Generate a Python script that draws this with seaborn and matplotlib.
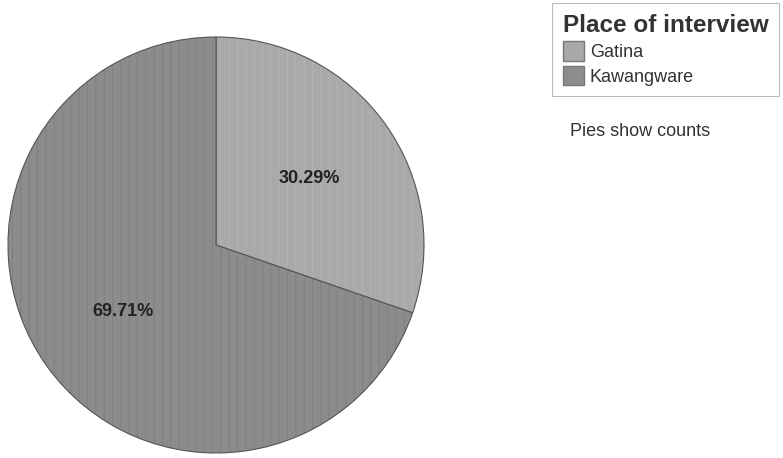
import matplotlib
matplotlib.use("Agg")
import matplotlib.pyplot as plt
import seaborn as sns
from matplotlib.patches import Patch

sns.set_theme(style="white")
plt.rcParams["font.family"] = ["Liberation Sans", "DejaVu Sans"]
plt.rcParams["hatch.linewidth"] = 0.6

places = ["Gatina", "Kawangware"]
shares = [30.29, 69.71]
colors = ["#a9a9a9", "#8c8c8c"]
hatch_colors = ["#b4b4b4", "#7e7e7e"]

fig = plt.figure(figsize=(7.83, 4.58), dpi=100)
ax = fig.add_axes([8 / 783, 5 / 458, 416 / 783, 416 / 458])

wedges, texts, autotexts = ax.pie(
    shares,
    colors=colors,
    startangle=90,
    counterclock=False,
    autopct=lambda p: f"{p:.2f}%",
    pctdistance=0.55,
    wedgeprops=dict(edgecolor="#555555", linewidth=0.8),
    textprops=dict(fontsize=13, fontweight="bold", color="#222222"),
)
for w, hc in zip(wedges, hatch_colors):
    w.set_hatch("||")
    w._hatch_color = matplotlib.colors.to_rgba(hc)
ax.set_xlim(-1.0, 1.0)
ax.set_ylim(-1.0, 1.0)
ax.set_aspect("equal")
ax.axis("off")

handles = [Patch(facecolor=c, edgecolor="#777777", label=p) for c, p in zip(colors, places)]
leg = fig.legend(
    handles=handles,
    title="Place of interview",
    loc="upper left",
    bbox_to_anchor=(552 / 783, 1 - 3 / 458),
    frameon=True,
    fontsize=13,
    title_fontproperties=dict(size=17.5, weight="bold"),
    alignment="left",
    handlelength=1.15,
    handleheight=1.3,
    handletextpad=0.35,
    labelspacing=0.25,
    borderpad=0.6,
    borderaxespad=0.0,
    fancybox=False,
)
leg.get_frame().set_edgecolor("#aaaaaa")
leg.get_frame().set_linewidth(0.8)
leg.get_title().set_color("#333333")
for t in leg.get_texts():
    t.set_color("#333333")

fig.text(570 / 783, 1 - 132 / 458, "Pies show counts", fontsize=13,
         color="#333333", va="center", ha="left")

fig.savefig("out.png", dpi=100)
